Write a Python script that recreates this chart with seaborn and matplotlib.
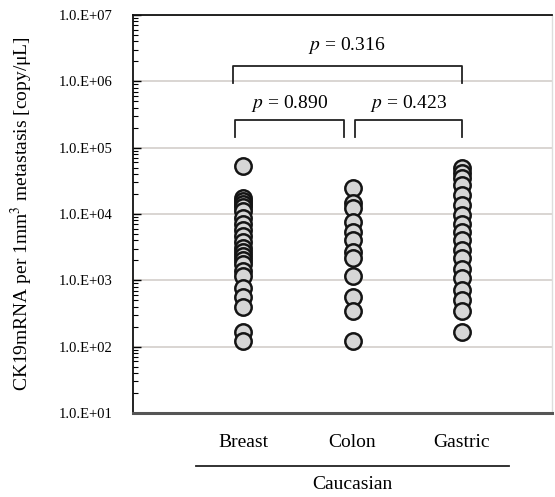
import matplotlib
matplotlib.use("Agg")
import matplotlib.pyplot as plt
import matplotlib.transforms as mtransforms
from matplotlib.ticker import LogLocator, FuncFormatter, NullFormatter
import pandas as pd
import numpy as np
import seaborn as sns

# values (copy/uL)
breast = [5.2e4, 1.75e4, 1.55e4, 1.4e4, 1.27e4, 1.1e4, 8.7e3, 7.0e3, 5.8e3, 4.7e3,
          3.8e3, 3.1e3, 2.7e3, 2.35e3, 2.0e3, 1.75e3, 1.4e3, 1.15e3, 7.6e2, 5.6e2,
          4.0e2, 1.65e2, 1.2e2]
colon = [2.45e4, 1.45e4, 1.23e4, 7.6e3, 5.4e3, 4.1e3, 2.7e3, 2.2e3, 1.15e3, 5.7e2,
         3.5e2, 1.2e2]
gastric = [4.9e4, 4.2e4, 3.5e4, 2.7e4, 1.9e4, 1.35e4, 9.5e3, 7.0e3, 5.4e3, 4.1e3,
           2.9e3, 2.2e3, 1.5e3, 1.07e3, 7.1e2, 5.0e2, 3.5e2, 1.65e2]
categories = ["Breast", "Colon", "Gastric"]
p_values = ["0.890", "0.423", "0.316"]
group_label = "Caucasian"

df = pd.DataFrame({
    "site": ["Breast"] * len(breast) + ["Colon"] * len(colon) + ["Gastric"] * len(gastric),
    "copies": breast + colon + gastric,
})

plt.rcParams['font.family'] = ['Liberation Serif', 'DejaVu Serif']
plt.rcParams['mathtext.fontset'] = 'stix'

fig = plt.figure(figsize=(5.55, 4.97), dpi=100)
ax = fig.add_axes([0.24, 0.169, 0.755, 0.801])
ax.set_yscale("log")

sns.stripplot(data=df, x="site", y="copies", order=categories, jitter=False,
              color="#d6d6d6", edgecolor="#141414", linewidth=1.8, size=11.8,
              ax=ax, zorder=3)

ax.set_xlim(-1.01, 2.83)
ax.set_ylim(1e1, 1e7)
ax.yaxis.set_major_locator(LogLocator(base=10, numticks=10))
ax.yaxis.set_minor_locator(LogLocator(base=10, subs=np.arange(2, 10), numticks=100))
ax.yaxis.set_major_formatter(FuncFormatter(lambda v, pos: "1.0.E+%02d" % int(round(np.log10(v)))))
ax.yaxis.set_minor_formatter(NullFormatter())
ax.tick_params(axis="y", which="major", direction="in", length=6, width=1, pad=15, labelsize=10.5)
ax.tick_params(axis="y", which="minor", direction="in", length=3.5, width=0.8)
ax.tick_params(axis="x", length=0, pad=15, labelsize=14)

ax.yaxis.grid(True, which="major", color="#cfcac6", lw=1.1, zorder=0)
ax.xaxis.grid(False)

for side in ["top", "left"]:
    ax.spines[side].set_color("#111111")
    ax.spines[side].set_linewidth(1.3)
ax.spines["bottom"].set_color("#555555")
ax.spines["bottom"].set_linewidth(2.2)
ax.spines["right"].set_color("#dddddd")
ax.spines["right"].set_linewidth(1)

ax.set_xlabel("")
ax.set_ylabel("CK19mRNA per 1mm$^{3}$ metastasis [copy/\u03bcL]", fontsize=14, labelpad=17)

# significance brackets
def bracket(x0, x1, y, ylow, text, lift):
    ax.plot([x0, x0, x1, x1], [ylow, y, y, ylow], color="#222222", lw=1.3, zorder=4)
    ax.text((x0 + x1) / 2, y * lift, "$p$ = " + text, ha="center", va="bottom", fontsize=14)

bracket(-0.08, 0.92, 2.6e5, 1.45e5, p_values[0], 1.25)
bracket(1.02, 2.0, 2.6e5, 1.45e5, p_values[1], 1.25)
bracket(-0.1, 2.0, 1.7e6, 0.95e6, p_values[2], 1.4)

# group line and label below the category labels
trans = mtransforms.blended_transform_factory(ax.transData, ax.transAxes)
ax.plot([1 - 1.43, 1 + 1.43], [-0.133, -0.133], color="#222222", lw=1.3,
        transform=trans, clip_on=False)
ax.text(1, -0.18, group_label, transform=trans, ha="center", va="center", fontsize=14)

fig.savefig("out.png", dpi=100)
